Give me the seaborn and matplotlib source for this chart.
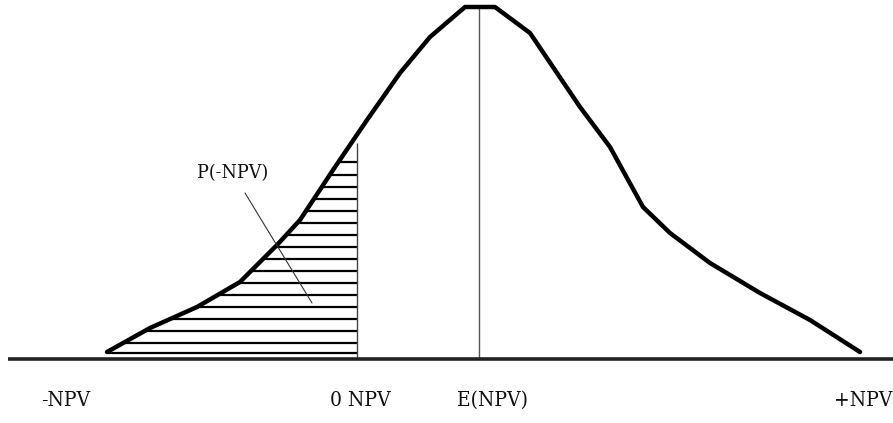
import numpy as np
import pandas as pd
import matplotlib
matplotlib.use("Agg")
import matplotlib.pyplot as plt
import seaborn as sns

# Hand-traced probability curve of NPV outcomes (x position, height above the axis)
npv_x = [107, 150, 197, 240, 277, 300, 333, 367, 400, 430, 465, 495,
         530, 580, 610, 643, 670, 710, 760, 810, 860]
density = [7, 31, 52, 77, 114, 139, 189, 239, 286, 322, 352, 352,
           326, 252, 212, 152, 126, 96, 66, 39, 7]

# Key points on the NPV axis
zero_npv = 357
expected_npv = 479

# Heights of the horizontal shading lines under the curve, left of 0 NPV
hatch_levels = [6, 16, 28, 40, 52, 64, 76, 88, 100, 112, 124, 136,
                148, 160, 172, 184, 197]

# Axis labels
tick_labels = ["-NPV", "0 NPV", "E(NPV)", "+NPV"]
tick_pos = [66, 360, 493, 892]
tick_align = ["center", "center", "center", "right"]

# Callout
callout_text = "P(-NPV)"

sns.set_theme(style="white")
plt.rcParams["font.family"] = ["DejaVu Serif", "DejaVu Sans"]

fig = plt.figure(figsize=(8.93, 4.23), dpi=100)
ax = fig.add_axes([0, 0, 1, 1])
ax.set_xlim(0, 893)
ax.set_ylim(-64, 359)
ax.axis("off")

curve = pd.DataFrame({"x": npv_x, "y": density})

# Horizontal shading between the rising branch and the 0 NPV line
rise = curve[curve["x"] <= 480]
for h in hatch_levels:
    left = np.interp(h, rise["y"], rise["x"])
    ax.hlines(h, left, zero_npv, color="black", lw=1.6, zorder=2)
top_at_zero = np.interp(zero_npv, curve["x"], curve["y"])
ax.vlines(zero_npv, 0, top_at_zero - 8, color="#444444", lw=1.0, zorder=2)

# Expected value marker
peak = max(density)
ax.vlines(expected_npv, 0, peak, color="#555555", lw=1.0, zorder=2)

# Distribution curve
sns.lineplot(data=curve, x="x", y="y", ax=ax, color="black", lw=3.2,
             sort=False, estimator=None, zorder=4,
             solid_joinstyle="round", solid_capstyle="round")

# NPV axis
ax.hlines(0, 8, 893, color="#222222", lw=2.6, zorder=3)

for lab, xp, al in zip(tick_labels, tick_pos, tick_align):
    ax.text(xp, -41, lab, ha=al, va="center", fontsize=15,
            fontstretch="condensed", color="#111111")

ax.text(233, 186, callout_text, ha="center", va="center", fontsize=14,
        fontstretch="condensed", color="#111111")
ax.plot([245, 312], [166, 56], color="#333333", lw=0.8, zorder=5)

fig.savefig("out.png", dpi=100, facecolor="white")
